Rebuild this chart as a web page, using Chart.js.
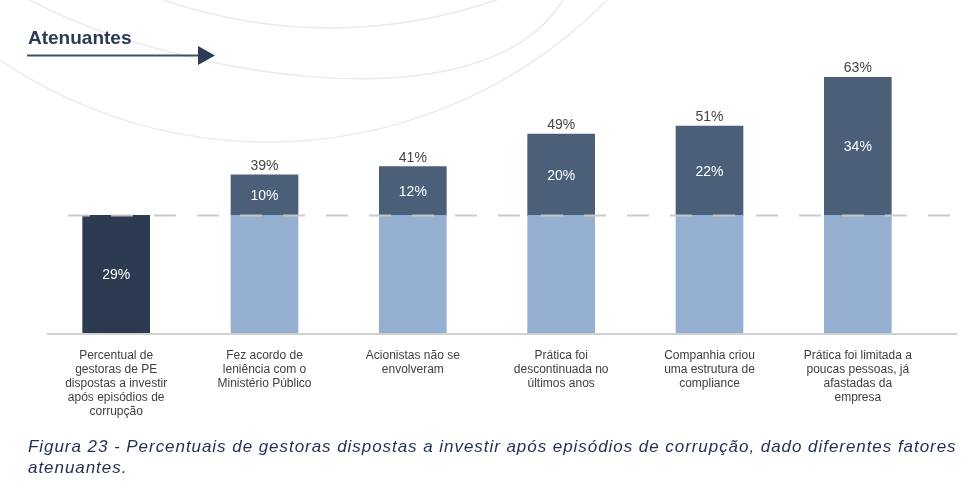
<!DOCTYPE html>
<html>
<head>
<meta charset="utf-8">
<script src="https://cdn.jsdelivr.net/npm/chart.js@4"></script>
<style>
  html, body { margin: 0; padding: 0; background: #fff; }
  #box { width: 977px; height: 491px; position: relative; }
</style>
</head>
<body>
<div id="box"><canvas id="fig23" width="977" height="491"></canvas></div>
<script>
// categories (wrapped the way the original wraps them)
var categories = [
  ["Percentual de", "gestoras de PE", "dispostas a investir", "após episódios de", "corrupção"],
  ["Fez acordo de", "leniência com o", "Ministério Público"],
  ["Acionistas não se", "envolveram"],
  ["Prática foi", "descontinuada no", "últimos anos"],
  ["Companhia criou", "uma estrutura de", "compliance"],
  ["Prática foi limitada a", "poucas pessoas, já", "afastadas da", "empresa"]
];
var baseShare = [29, 29, 29, 29, 29, 29];
var extraShare = [0, 10, 12, 20, 22, 34];
var totalShare = [29, 39, 41, 49, 51, 63];

var titleText = "Atenuantes";
var captionLines = [
  "Figura 23 - Percentuais de gestoras dispostas a investir após episódios de corrupção, dado diferentes fatores",
  "atenuantes."
];

var FONT = '"Liberation Sans", Arial, sans-serif';
var navy = "#2c3b52";
var slate = "#4b6078";
var lightBlue = "#95afd0";

var decor = {
  id: "decor",
  beforeDraw: function(chart) {
    var c = chart.ctx;
    c.save();
    // faint background arcs
    c.strokeStyle = "#ebebeb";
    c.lineWidth = 1.5;
    c.beginPath(); c.moveTo(163, 0); c.quadraticCurveTo(330, 56, 497, 0); c.stroke();
    c.beginPath(); c.moveTo(30, 0); c.bezierCurveTo(160, 70, 480, 135, 563, 0); c.stroke();
    c.beginPath(); c.arc(267.5, -334.6, 476.7, 0, Math.PI); c.stroke();

    // title + arrow
    c.fillStyle = "#2b3a55";
    c.font = "bold 19px " + FONT;
    c.textBaseline = "alphabetic";
    c.textAlign = "left";
    c.fillText(titleText, 28, 44);
    c.strokeStyle = "#3f5068";
    c.lineWidth = 2;
    c.beginPath(); c.moveTo(27, 55.5); c.lineTo(200, 55.5); c.stroke();
    c.beginPath(); c.moveTo(198, 46); c.lineTo(215, 55.5); c.lineTo(198, 65); c.closePath(); c.fill();

    // caption
    c.fillStyle = "#1f3050";
    c.font = "italic 17px " + FONT;
    c.letterSpacing = "0.95px";
    c.fillText(captionLines[0], 28, 452);
    c.fillText(captionLines[1], 28, 473);
    c.restore();
  },
  afterDatasetsDraw: function(chart) {
    var c = chart.ctx;
    var yScale = chart.scales.y;
    var bottom = chart.chartArea.bottom;
    c.save();
    // axis line
    c.strokeStyle = "#d0d0d0";
    c.lineWidth = 2;
    c.beginPath(); c.moveTo(47, bottom + 1); c.lineTo(957, bottom + 1); c.stroke();
    // dashed reference line at the baseline share
    var yRef = Math.round(yScale.getPixelForValue(baseShare[0])) + 0.5;
    c.strokeStyle = "rgba(200,200,200,0.95)";
    c.setLineDash([22, 21]);
    c.lineDashOffset = 22;
    c.beginPath(); c.moveTo(47, yRef); c.lineTo(957, yRef); c.stroke();
    c.setLineDash([]);

    // value labels
    c.font = "14px " + FONT;
    c.textAlign = "center";
    c.textBaseline = "middle";
    var baseBars = chart.getDatasetMeta(0).data;
    var extraBars = chart.getDatasetMeta(1).data;
    for (var i = 0; i < categories.length; i++) {
      var x = baseBars[i].x;
      if (extraShare[i] === 0) {
        c.fillStyle = "#ffffff";
        c.fillText(baseShare[i] + "%", x, (baseBars[i].y + baseBars[i].base) / 2 + 1);
      } else {
        c.fillStyle = "#ffffff";
        c.fillText(extraShare[i] + "%", x, (extraBars[i].y + extraBars[i].base) / 2 + 1);
        c.fillStyle = "#444444";
        c.fillText(totalShare[i] + "%", x, yScale.getPixelForValue(totalShare[i]) - 9);
      }
    }
    c.restore();
  }
};

var ctx = document.getElementById("fig23");

var chartData = {
  labels: categories,
  datasets: [
    {
      data: baseShare,
      backgroundColor: baseShare.map(function(v, i) { return i === 0 ? navy : lightBlue; })
    },
    {
      data: extraShare,
      backgroundColor: slate
    }
  ]
};

var chartOptions = {
  responsive: false,
  animation: false,
  devicePixelRatio: 1,
  layout: { padding: { left: 42, right: 45, top: 49, bottom: 0 } },
  plugins: { legend: { display: false }, tooltip: { enabled: false } },
  datasets: { bar: { barThickness: 67 } },
  scales: {
    x: {
      stacked: true,
      grid: { display: false, drawTicks: false },
      border: { display: false },
      ticks: {
        padding: 16,
        color: "#404040",
        font: { family: FONT, size: 12, lineHeight: 1.17 },
        maxRotation: 0,
        autoSkip: false
      },
      afterFit: function(scale) { scale.height = 158; }
    },
    y: {
      stacked: true,
      display: false,
      min: 0,
      max: 70
    }
  }
};

var fig23 = new Chart(ctx, {
  type: "bar",
  data: chartData,
  options: chartOptions,
  plugins: [decor]
});
</script>
</body>
</html>
